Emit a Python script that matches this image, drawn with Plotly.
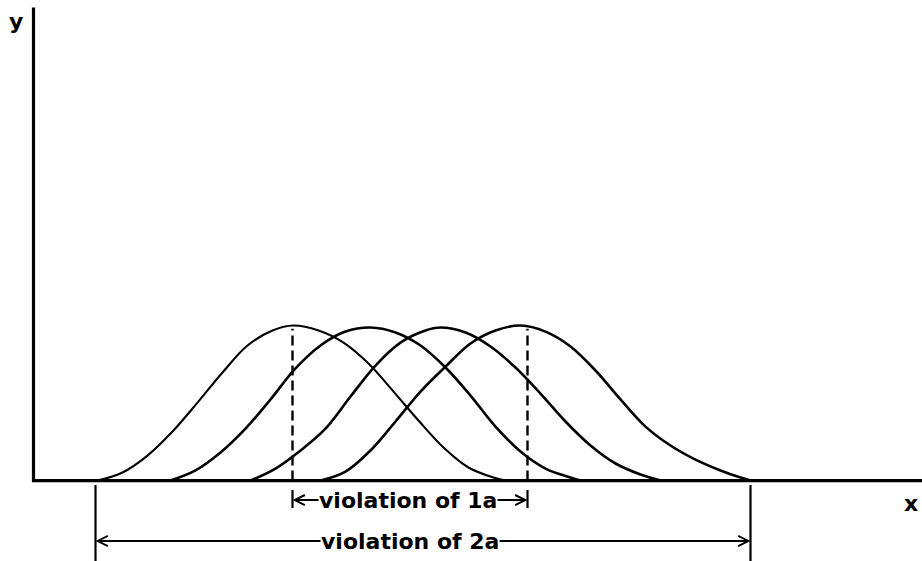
import plotly.graph_objects as go

# Four overlapping bell-shaped response curves (x along the axis, y relative height)
curve1_x = [64, 89, 114, 139, 164, 189, 214, 239, 260, 285, 310, 335, 360, 385, 410, 435, 460, 472]
curve1_y = [0, 0.052, 0.161, 0.316, 0.503, 0.697, 0.871, 0.968, 1.0, 0.968, 0.890, 0.755,
            0.574, 0.387, 0.213, 0.084, 0.019, 0]

curve2_x = [137, 162, 187, 212, 237, 262, 287, 312, 337, 362, 387, 412, 437, 462, 487, 512, 537, 547]
curve2_y = [0, 0.065, 0.181, 0.335, 0.523, 0.723, 0.871, 0.961, 0.987, 0.955, 0.871, 0.729,
            0.548, 0.348, 0.187, 0.077, 0.019, 0]

curve3_x = [217, 242, 267, 292, 317, 342, 367, 392, 407, 432, 457, 482, 507, 532, 557, 582, 607, 627]
curve3_y = [0, 0.077, 0.194, 0.335, 0.542, 0.742, 0.890, 0.968, 0.987, 0.955, 0.865, 0.729,
            0.561, 0.381, 0.226, 0.110, 0.039, 0]

curve4_x = [287, 312, 337, 362, 387, 412, 437, 462, 487, 512, 537, 562, 587, 612, 637, 662, 687, 707, 717]
curve4_y = [0, 0.058, 0.194, 0.381, 0.574, 0.735, 0.884, 0.968, 1.0, 0.961, 0.865, 0.710,
            0.523, 0.348, 0.226, 0.135, 0.065, 0.019, 0]

curves = [
    (curve1_x, curve1_y, 2.1),
    (curve2_x, curve2_y, 2.6),
    (curve3_x, curve3_y, 2.6),
    (curve4_x, curve4_y, 2.6),
]

# Axis extents
x_axis_end = 889
y_axis_top = 3.052

# Dashed peak markers bounding the "violation of 1a" span
viol_1a_x = [259, 494]
viol_1a_top = [0.98, 0.98]
viol_1a_label = "violation of 1a"
viol_1a_label_x = 374

# Outer span of "violation of 2a"
viol_2a_x = [62, 717]
viol_2a_label = "violation of 2a"
viol_2a_label_x = 376

# Vertical placement of the dimension lines below the axis
row_1a_y = -0.126
row_1a_tick = [-0.061, -0.177]
row_2a_y = -0.39
row_2a_tick = [-0.029, -0.52]

font_family = "DejaVu Sans"
ink = "black"

fig = go.Figure()

# axes
fig.add_trace(go.Scatter(x=[0, 0, x_axis_end], y=[y_axis_top, 0, 0], mode="lines",
                         line=dict(color=ink, width=3.2), hoverinfo="skip"))

for cx, cy, w in curves:
    fig.add_trace(go.Scatter(x=cx, y=cy, mode="lines",
                             line=dict(color=ink, width=w, shape="spline", smoothing=1.0),
                             hoverinfo="skip"))

# dashed verticals at the peaks
for vx, vt in zip(viol_1a_x, viol_1a_top):
    fig.add_trace(go.Scatter(x=[vx, vx], y=[0, vt], mode="lines",
                             line=dict(color=ink, width=2.4, dash="10px,5px"), hoverinfo="skip"))

# end ticks of the dimension lines
for vx in viol_1a_x:
    fig.add_trace(go.Scatter(x=[vx, vx], y=row_1a_tick, mode="lines",
                             line=dict(color=ink, width=2.2), hoverinfo="skip"))
for vx in viol_2a_x:
    fig.add_trace(go.Scatter(x=[vx, vx], y=row_2a_tick, mode="lines",
                             line=dict(color=ink, width=2.2), hoverinfo="skip"))

annotations = []


def dimension(xs, label_x, row_y, label):
    for tip in xs:
        annotations.append(dict(x=tip, y=row_y, ax=label_x, ay=row_y, xref="x", yref="y",
                                axref="x", ayref="y", text="", showarrow=True,
                                arrowhead=5, arrowsize=1, arrowwidth=2, arrowcolor=ink,
                                standoff=0, startstandoff=0))
    annotations.append(dict(x=label_x, y=row_y, xref="x", yref="y", text=label,
                            showarrow=False, bgcolor="white", borderpad=0,
                            font=dict(family=font_family, size=22, color=ink, weight="bold")))


dimension(viol_1a_x, viol_1a_label_x, row_1a_y, viol_1a_label)
dimension(viol_2a_x, viol_2a_label_x, row_2a_y, viol_2a_label)

annotations.append(dict(x=-18, y=2.96, xref="x", yref="y", text="y", showarrow=False,
                        font=dict(family=font_family, size=22, color=ink, weight="bold")))
annotations.append(dict(x=877, y=-0.145, xref="x", yref="y", text="x", showarrow=False,
                        font=dict(family=font_family, size=22, color=ink, weight="bold")))

fig.update_layout(
    width=922, height=561, autosize=False,
    margin=dict(l=0, r=0, t=0, b=0),
    paper_bgcolor="white", plot_bgcolor="white",
    showlegend=False,
    xaxis=dict(visible=False, range=[-33.5, 888.5], fixedrange=True),
    yaxis=dict(visible=False, range=[-0.519, 3.1], fixedrange=True),
    annotations=annotations,
)

fig.write_html("out.html")
